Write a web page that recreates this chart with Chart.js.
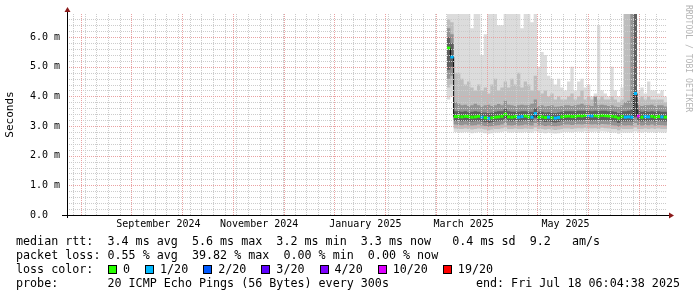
<!DOCTYPE html>
<html>
<head>
<meta charset="utf-8">
<script src="https://cdn.jsdelivr.net/npm/chart.js@4.4.1/dist/chart.umd.min.js"></script>
<style>
  html, body { margin: 0; padding: 0; background: #fff; }
  #wrap { position: relative; width: 697px; height: 297px; overflow: hidden; }
  #wrap canvas { position: absolute; left: 0; top: 0; }
  .row { position: absolute; left: 16px; white-space: pre; font: 11.7px 'DejaVu Sans Mono', monospace; line-height: 14px; color: #000; }
  .vendor { position: absolute; left: 684px; top: 5px; writing-mode: vertical-rl; font: 8.1px 'DejaVu Sans Mono', monospace; line-height: 9px; color: #b4b4b4; white-space: pre; }
  #lossItems { position: absolute; left: 108px; top: 262px; display: flex; align-items: center; height: 14px; font: 11.7px 'DejaVu Sans Mono', monospace; }
  #lossItems .box { width: 7px; height: 7px; border: 1px solid #000; margin-right: 6px; }
  #lossItems .lbl { margin-right: 15px; white-space: pre; }
</style>
</head>
<body>
<div id="wrap">
  <canvas id="smoke" width="697" height="297"></canvas>
  <div class="vendor">RRDTOOL / TOBI OETIKER</div>
  <div class="row" style="top:234px">median rtt:  3.4 ms avg  5.6 ms max  3.2 ms min  3.3 ms now   0.4 ms sd  9.2   am/s</div>
  <div class="row" style="top:248px">packet loss: 0.55 % avg  39.82 % max  0.00 % min  0.00 % now</div>
  <div class="row" style="top:262px">loss color:</div>
  <div id="lossItems"></div>
  <div class="row" style="top:276px">probe:       20 ICMP Echo Pings (56 Bytes) every 300s</div>
  <div class="row" style="top:276px;left:auto;right:17px">end: Fri Jul 18 06:04:38 2025</div>
</div>
<script>
// time axis in days since graph start, values in milliseconds
const endDay = 360;
const stepDays = 2;

const days = [
  228, 230, 232, 234, 236, 238, 240, 242, 244, 246,
  248, 250, 252, 254, 256, 258, 260, 262, 264, 266,
  268, 270, 272, 274, 276, 278, 280, 282, 284, 286,
  288, 290, 292, 294, 296, 298, 300, 302, 304, 306,
  308, 310, 312, 314, 316, 318, 320, 322, 324, 326,
  328, 330, 332, 334, 336, 338, 340, 342, 344, 346,
  348, 350, 352, 354, 356, 358
];

const median = [
  5.63, 5.33, 3.32, 3.33, 3.31, 3.33, 3.32, 3.30, 3.31, 3.33,
  3.30, 3.28, 3.26, 3.28, 3.30, 3.31, 3.33, 3.40, 3.31, 3.30,
  3.32, 3.30, 3.32, 3.34, 3.31, 3.30, 3.42, 3.30, 3.31, 3.29,
  3.30, 3.28, 3.27, 3.29, 3.31, 3.33, 3.34, 3.32, 3.33, 3.35,
  3.34, 3.36, 3.35, 3.34, 3.35, 3.33, 3.36, 3.35, 3.34, 3.33,
  3.31, 3.27, 3.32, 3.30, 3.31, 3.30, 4.10, 3.34, 3.30, 3.32,
  3.31, 3.33, 3.30, 3.32, 3.31, 3.30
];

// lost pings out of 20
const loss = [
  0, 1, 0, 0, 0, 0, 0, 0, 0, 0,
  1, 0, 1, 0, 0, 0, 0, 0, 0, 0,
  0, 1, 1, 0, 0, 1, 1, 0, 0, 0,
  1, 0, 1, 1, 0, 0, 0, 0, 0, 0,
  0, 0, 1, 1, 0, 0, 0, 0, 0, 0,
  0, 0, 0, 1, 1, 1, 1, 10, 0, 1,
  1, 0, 0, 0, 1, 0
];

const smokeMax = [
  6.78, 6.78, 6.78, 6.78, 6.78, 6.78, 6.78, 6.3, 6.78, 6.78,
  5.4, 6.1, 6.78, 6.78, 6.78, 6.4, 6.4, 6.78, 6.78, 6.78,
  6.78, 6.78, 6.3, 6.78, 6.78, 6.5, 6.78, 5.0, 5.5, 5.4,
  4.7, 4.6, 4.4, 4.6, 4.3, 4.2, 4.5, 5.0, 4.2, 4.5,
  4.6, 4.3, 4.4, 4.0, 4.1, 6.4, 4.2, 4.1, 4.0, 5.0,
  4.2, 4.0, 4.3, 6.78, 6.78, 6.78, 6.78, 4.2, 4.3, 4.1,
  4.5, 4.2, 4.2, 4.1, 4.2, 4.0
];
const smokeMin = [
  3.9, 4.0, 2.8, 2.78, 2.78, 2.8, 2.78, 2.76, 2.78, 2.8,
  2.78, 2.76, 2.74, 2.76, 2.78, 2.78, 2.8, 2.82, 2.78, 2.78,
  2.8, 2.78, 2.78, 2.8, 2.78, 2.78, 2.82, 2.78, 2.78, 2.76,
  2.78, 2.76, 2.75, 2.76, 2.78, 2.8, 2.8, 2.78, 2.8, 2.81,
  2.8, 2.82, 2.81, 2.8, 2.81, 2.78, 2.82, 2.81, 2.8, 2.78,
  2.78, 2.74, 2.78, 2.78, 2.78, 2.78, 2.82, 2.78, 2.78, 2.8,
  2.78, 2.8, 2.78, 2.8, 2.78, 2.78
];
const band2Hi = [
  6.6, 6.5, 4.8, 4.8, 4.6, 4.4, 4.5, 4.3, 4.2, 4.4,
  4.2, 4.3, 4.1, 4.4, 4.6, 4.2, 4.3, 4.5, 4.3, 4.6,
  4.4, 4.8, 4.3, 4.5, 4.4, 4.2, 4.7, 4.2, 4.1, 4.2,
  4.0, 4.1, 3.9, 4.0, 3.9, 3.9, 4.0, 4.1, 3.9, 4.0,
  4.2, 3.9, 4.0, 3.9, 4.0, 3.9, 4.0, 3.9, 3.9, 4.0,
  3.9, 3.8, 3.9, 6.78, 6.78, 6.78, 6.78, 3.9, 4.0, 3.9,
  4.0, 3.9, 3.9, 3.9, 3.9, 3.8
];
const band2Lo = [
  4.3, 4.4, 2.92, 2.9, 2.9, 2.92, 2.9, 2.88, 2.9, 2.92,
  2.9, 2.88, 2.86, 2.88, 2.9, 2.9, 2.92, 2.95, 2.9, 2.9,
  2.92, 2.9, 2.9, 2.92, 2.9, 2.9, 2.95, 2.9, 2.9, 2.88,
  2.9, 2.88, 2.87, 2.88, 2.9, 2.92, 2.92, 2.9, 2.92, 2.93,
  2.92, 2.94, 2.93, 2.92, 2.93, 2.9, 2.94, 2.93, 2.92, 2.9,
  2.9, 2.86, 2.9, 2.9, 2.9, 2.9, 2.95, 2.9, 2.9, 2.92,
  2.9, 2.92, 2.9, 2.92, 2.9, 2.9
];
const band3Hi = [
  6.3, 6.1, 3.8, 3.75, 3.7, 3.72, 3.68, 3.7, 3.75, 3.7,
  3.66, 3.7, 3.72, 3.68, 3.7, 3.74, 3.7, 3.85, 3.72, 3.7,
  3.68, 3.7, 3.72, 3.7, 3.7, 3.75, 3.9, 3.68, 3.7, 3.66,
  3.68, 3.7, 3.65, 3.66, 3.68, 3.7, 3.7, 3.68, 3.7, 3.72,
  3.75, 3.7, 3.7, 3.68, 4.0, 3.7, 3.72, 3.7, 3.68, 3.7,
  3.66, 3.64, 3.7, 3.8, 3.85, 6.78, 6.78, 3.7, 3.68, 3.7,
  3.7, 3.72, 3.68, 3.7, 3.7, 3.66
];
const band3Lo = [
  4.6, 4.7, 3.05, 3.04, 3.03, 3.05, 3.03, 3.02, 3.03, 3.05,
  3.02, 3.0, 2.98, 3.0, 3.02, 3.03, 3.05, 3.1, 3.03, 3.02,
  3.04, 3.02, 3.03, 3.05, 3.03, 3.02, 3.1, 3.02, 3.03, 3.0,
  3.02, 3.0, 2.99, 3.01, 3.03, 3.05, 3.05, 3.04, 3.05, 3.06,
  3.05, 3.07, 3.06, 3.05, 3.06, 3.04, 3.07, 3.06, 3.05, 3.03,
  3.02, 2.98, 3.03, 3.02, 3.03, 3.02, 3.1, 3.04, 3.02, 3.04,
  3.03, 3.05, 3.02, 3.04, 3.03, 3.02
];
const band4Hi = [
  6.0, 5.8, 3.5, 3.5, 3.48, 3.5, 3.47, 3.48, 3.5, 3.48,
  3.46, 3.46, 3.44, 3.46, 3.48, 3.5, 3.5, 3.58, 3.5, 3.48,
  3.48, 3.48, 3.5, 3.5, 3.48, 3.48, 3.6, 3.48, 3.48, 3.46,
  3.47, 3.45, 3.44, 3.46, 3.48, 3.5, 3.5, 3.5, 3.5, 3.52,
  3.52, 3.52, 3.52, 3.5, 3.52, 3.5, 3.52, 3.52, 3.5, 3.5,
  3.48, 3.44, 3.5, 3.5, 3.52, 3.55, 6.78, 3.55, 3.48, 3.5,
  3.48, 3.5, 3.48, 3.5, 3.48, 3.48
];
const band4Lo = [
  4.9, 5.0, 3.17, 3.17, 3.16, 3.17, 3.16, 3.15, 3.16, 3.17,
  3.15, 3.13, 3.11, 3.13, 3.15, 3.16, 3.18, 3.24, 3.16, 3.15,
  3.17, 3.15, 3.16, 3.18, 3.16, 3.15, 3.26, 3.15, 3.16, 3.14,
  3.15, 3.13, 3.12, 3.14, 3.16, 3.18, 3.18, 3.17, 3.18, 3.19,
  3.18, 3.2, 3.19, 3.18, 3.19, 3.17, 3.2, 3.19, 3.18, 3.16,
  3.15, 3.11, 3.16, 3.15, 3.16, 3.15, 3.3, 3.18, 3.15, 3.17,
  3.16, 3.18, 3.15, 3.17, 3.16, 3.15
];

const lossSteps = [0, 1, 2, 3, 4, 10, 19];
const lossLabels = ['0', '1/20', '2/20', '3/20', '4/20', '10/20', '19/20'];
const lossColors = ['#26ff00', '#00b8ff', '#0059ff', '#5e00ff', '#7e00ff', '#dd00ff', '#ff0000'];

const xLabelDays = [54.8, 115.3, 179, 238, 299.1];
const xLabels = ['September 2024', 'November 2024', 'January 2025', 'March 2025', 'May 2025'];
const yLabelValues = [0, 1, 2, 3, 4, 5, 6];
const yLabels = ['0.0  ', '1.0 m', '2.0 m', '3.0 m', '4.0 m', '5.0 m', '6.0 m'];
const yMax = 6.78;

// grid: weekly minor and monthly major lines, 0.2 ms minor and 1 ms major
const minorGrid = '#cccccc';
const majorGrid = '#eaa2a2';
const weekStart = 3.5, weekStep = 7;
const monthStart = 8.2, monthStep = 30.45;
const yMinorStep = 0.2;

function lossColor(n) {
    let c = lossColors[0];
    lossSteps.forEach((s, i) => { if (n >= s) c = lossColors[i]; });
    return c;
}

function stepData(values) {
    const pts = days.map((d, i) => ({ x: d, y: values[i] }));
    pts.push({ x: endDay, y: values[values.length - 1] });
    return pts;
}

function band(values, order, fillTarget, color) {
    return {
        data: stepData(values),
        stepped: true,
        borderWidth: 0,
        pointRadius: 0,
        order: order,
        fill: fillTarget === null ? false : { target: fillTarget },
        backgroundColor: color || 'transparent'
    };
}

// legend swatches
const lossBox = document.getElementById('lossItems');
lossLabels.forEach((label, i) => {
    const b = document.createElement('span');
    b.className = 'box';
    b.style.background = lossColors[i];
    const t = document.createElement('span');
    t.className = 'lbl';
    t.textContent = label;
    lossBox.appendChild(b);
    lossBox.appendChild(t);
});

// rrdtool draws its dotted grid over the graph
const rrdGrid = {
    id: 'rrdGrid',
    afterDatasetsDraw(chart) {
        const { ctx, chartArea: a, scales: { x, y } } = chart;
        ctx.save();
        ctx.lineWidth = 1;
        ctx.setLineDash([1, 1]);
        const vline = (d, color) => {
            const px = Math.round(x.getPixelForValue(d)) + 0.5;
            ctx.strokeStyle = color;
            ctx.beginPath();
            ctx.moveTo(px, a.top);
            ctx.lineTo(px, a.bottom);
            ctx.stroke();
        };
        const hline = (v, color) => {
            const py = Math.round(y.getPixelForValue(v)) + 0.5;
            ctx.strokeStyle = color;
            ctx.beginPath();
            ctx.moveTo(a.left, py);
            ctx.lineTo(a.right, py);
            ctx.stroke();
        };
        for (let d = weekStart; d < endDay; d += weekStep) vline(d, minorGrid);
        for (let i = 1; i * yMinorStep < yMax; i++) {
            if (i % 5) hline(i * yMinorStep, minorGrid);
        }
        for (let d = monthStart; d < endDay; d += monthStep) vline(d, majorGrid);
        yLabelValues.forEach((v) => { if (v > 0) hline(v, majorGrid); });
        ctx.restore();
    }
};

const axisArrows = {
    id: 'axisArrows',
    afterDraw(chart) {
        const { ctx, chartArea: a } = chart;
        ctx.save();
        ctx.strokeStyle = '#000';
        ctx.lineWidth = 1;
        ctx.beginPath();
        ctx.moveTo(a.left - 5, a.bottom + 0.5);
        ctx.lineTo(a.right + 2, a.bottom + 0.5);
        ctx.moveTo(a.left + 0.5, a.bottom + 3);
        ctx.lineTo(a.left + 0.5, a.top - 3);
        ctx.stroke();
        ctx.fillStyle = '#8b1a1a';
        ctx.beginPath();
        ctx.moveTo(a.right + 7, a.bottom + 0.5);
        ctx.lineTo(a.right + 2, a.bottom - 2.5);
        ctx.lineTo(a.right + 2, a.bottom + 3.5);
        ctx.closePath();
        ctx.fill();
        ctx.beginPath();
        ctx.moveTo(a.left + 0.5, a.top - 7);
        ctx.lineTo(a.left - 2.5, a.top - 2);
        ctx.lineTo(a.left + 3.5, a.top - 2);
        ctx.closePath();
        ctx.fill();
        ctx.restore();
    }
};

Chart.defaults.font.family = "'DejaVu Sans Mono', monospace";
Chart.defaults.color = '#000';

new Chart(document.getElementById('smoke'), {
    type: 'line',
    data: {
        datasets: [
            band(smokeMin, 9, null),
            band(smokeMax, 8, 0, '#dcdcdc'),
            band(band2Lo, 7, null),
            band(band2Hi, 6, 2, '#bdbdbd'),
            band(band3Lo, 5, null),
            band(band3Hi, 4, 4, '#939393'),
            band(band4Lo, 3, null),
            band(band4Hi, 2, 6, '#5e5e5e'),
            {
                data: stepData(median),
                stepped: true,
                borderColor: '#000',
                borderWidth: 1,
                pointRadius: 0,
                fill: false,
                order: 1
            },
            {
                data: days.map((d, i) => ({ x: d + stepDays / 2, y: median[i] })),
                showLine: false,
                pointStyle: 'line',
                pointRadius: (c) => {
                    const s = c.chart.scales.x;
                    return (s.getPixelForValue(stepDays) - s.getPixelForValue(0)) / 2;
                },
                pointBorderWidth: 3,
                pointBorderColor: (c) => lossColor(loss[c.dataIndex]),
                pointBackgroundColor: (c) => lossColor(loss[c.dataIndex]),
                order: 0
            }
        ]
    },
    options: {
        responsive: false,
        animation: false,
        devicePixelRatio: 1,
        layout: { padding: { top: 14, right: 30, bottom: 65, left: 0 } },
        plugins: { legend: { display: false }, tooltip: { enabled: false } },
        scales: {
            x: {
                type: 'linear',
                min: 0,
                max: endDay,
                afterFit: (s) => { s.height = 17; },
                afterBuildTicks: (s) => {
                    s.ticks = xLabelDays.map((d, i) => ({ value: d, text: xLabels[i] }));
                },
                grid: { display: false, drawTicks: false },
                border: { display: false },
                ticks: {
                    autoSkip: false,
                    maxRotation: 0,
                    minRotation: 0,
                    padding: 3,
                    font: { size: 10 },
                    callback: (v, i, ticks) => ticks[i].text
                }
            },
            y: {
                min: 0,
                max: yMax,
                afterFit: (s) => { s.width = 67; },
                afterBuildTicks: (s) => {
                    s.ticks = yLabelValues.map((v, i) => ({ value: v, text: yLabels[i] }));
                },
                title: {
                    display: true,
                    text: 'Seconds',
                    font: { size: 11 },
                    padding: { top: 4, bottom: 4 }
                },
                grid: { display: false, drawTicks: false },
                border: { display: false },
                ticks: {
                    autoSkip: false,
                    padding: 7,
                    font: { size: 10 },
                    callback: (v, i, ticks) => ticks[i].text
                }
            }
        }
    },
    plugins: [rrdGrid, axisArrows]
});
</script>
</body>
</html>
